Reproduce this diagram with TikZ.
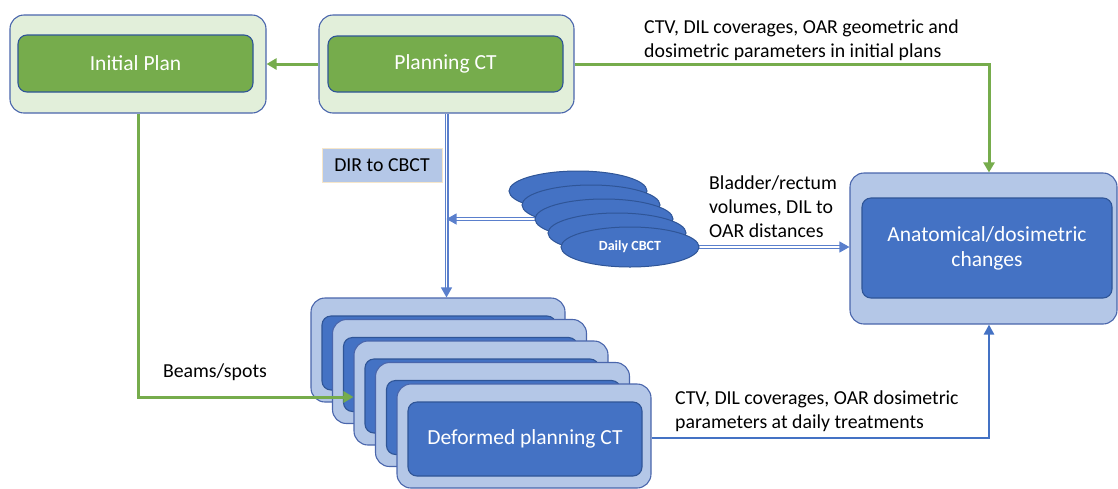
\documentclass[tikz,border=0pt]{standalone}
\usepackage{fontspec}
\setmainfont{Carlito}
\usetikzlibrary{arrows.meta,shapes.geometric}
\definecolor{lgreen}{HTML}{E2EFDA}
\definecolor{mgreen}{HTML}{76AC4C}
\definecolor{lblue}{HTML}{B4C7E7}
\definecolor{mblue}{HTML}{4472C4}
\definecolor{dblue}{HTML}{2F5597}
\definecolor{obord}{HTML}{4A66AC}
\definecolor{dirborder}{HTML}{F6E6CA}
\definecolor{dline}{HTML}{5A7FCC}
\begin{document}
\begin{tikzpicture}[x=1pt,y=-1pt,
  outerbox/.style={rectangle, draw=obord, line width=1.1pt, rounded corners=14pt, inner sep=0pt},
  innerbox/.style={rectangle, draw=dblue, line width=1.1pt, rounded corners=9pt, inner sep=0pt, text=white, font=\fontsize{21.5}{25}\selectfont, align=center},
  lbl/.style={font=\fontsize{19.8}{24}\selectfont, align=left, inner sep=0pt, text=black},
  garrow/.style={draw=mgreen, line width=3pt, -{Triangle[length=10pt,width=11pt]}},
  barrow/.style={draw=mblue, line width=2.4pt, -{Triangle[length=10pt,width=10pt]}},
  dblarrow/.style={draw=dline, line width=1.1pt, double=white, double distance=1.8pt, -{Triangle[length=10pt,width=11pt]}},
  cbct/.style={ellipse, draw=dblue, fill=mblue, line width=1pt, minimum width=138pt, minimum height=40pt, inner sep=0pt}
]
\useasboundingbox (0,0) rectangle (1118,488);

% top boxes
\node[outerbox, fill=lgreen, minimum width=256pt, minimum height=98pt] (ip) at (138,64) {};
\node[innerbox, fill=mgreen, minimum width=235pt, minimum height=57pt] (ipi) at (135.5,63.5) {Initial Plan};
\node[outerbox, fill=lgreen, minimum width=255pt, minimum height=98pt] (pct) at (446.5,64) {};
\node[innerbox, fill=mgreen, minimum width=235pt, minimum height=56pt] (pcti) at (445.5,64) {Planning CT};

% anatomical changes
\node[outerbox, fill=lblue, minimum width=267pt, minimum height=151pt] (anat) at (983.5,248.5) {};
\node[innerbox, fill=mblue, minimum width=250pt, minimum height=100pt] (anati) at (987,248) {Anatomical/dosimetric\\changes};

% deformed planning CT stack
\foreach \i in {0,...,3} {
  \node[outerbox, fill=lblue, minimum width=254pt, minimum height=104pt] (d\i) at ({438+21.5*\i},{350+21.5*\i}) {};
  \node[innerbox, fill=mblue, minimum width=234pt, minimum height=74pt] (di\i) at ({439+21.5*\i},{353+21.5*\i}) {};
}
\node[outerbox, fill=lblue, minimum width=254pt, minimum height=104pt] (d4) at (524,436) {};
\node[innerbox, fill=mblue, minimum width=234pt, minimum height=74pt] (di4) at (525,439) {Deformed planning CT};

% DIR label
\node[draw=dirborder, line width=0.8pt, fill=lblue, minimum width=120pt, minimum height=34pt, inner sep=0pt, font=\fontsize{19.8}{24}\selectfont] (dir) at (382,165) {DIR to CBCT};

% connectors
\coordinate (colx) at (989,0);
\draw[garrow] (pct.west) -- (ip.east);
\draw[garrow] (pct.east) -| (colx |- anat.north);
\draw[garrow] (ip.south) |- ([yshift=-4pt]d2.west);
\draw[barrow] ([yshift=-2pt]d4.east) -| (colx |- anat.south);
\draw[dblarrow] (pct.south) -- (pct.south |- d0.north);

% ellipse anchor points used by the connectors
\coordinate (e2w) at (535,219);
\coordinate (e4e) at (698,247);
\draw[dblarrow] (e2w) -- (e2w -| pct.south);
\draw[dblarrow] (e4e) -- (e4e -| anat.west);

% daily CBCT ellipses
\foreach \i in {0,...,3} {
  \node[cbct] (e\i) at ({578+13*\i},{191+14*\i}) {};
}
\node[cbct, text=white, font=\fontsize{14}{16}\selectfont\bfseries] (e4) at (630,247) {Daily CBCT};

% labels
\node[lbl, anchor=west] (l1) at (644,40) {CTV, DIL coverages, OAR geometric and\\dosimetric parameters in initial plans};
\node[lbl, anchor=west] (l2) at (709,207) {Bladder/rectum\\volumes, DIL to\\OAR distances};
\node[lbl, anchor=west] (l3) at (675,411) {CTV, DIL coverages, OAR dosimetric\\parameters at daily treatments};
\node[lbl] (l4) at (215,372) {Beams/spots};
\end{tikzpicture}
\end{document}
